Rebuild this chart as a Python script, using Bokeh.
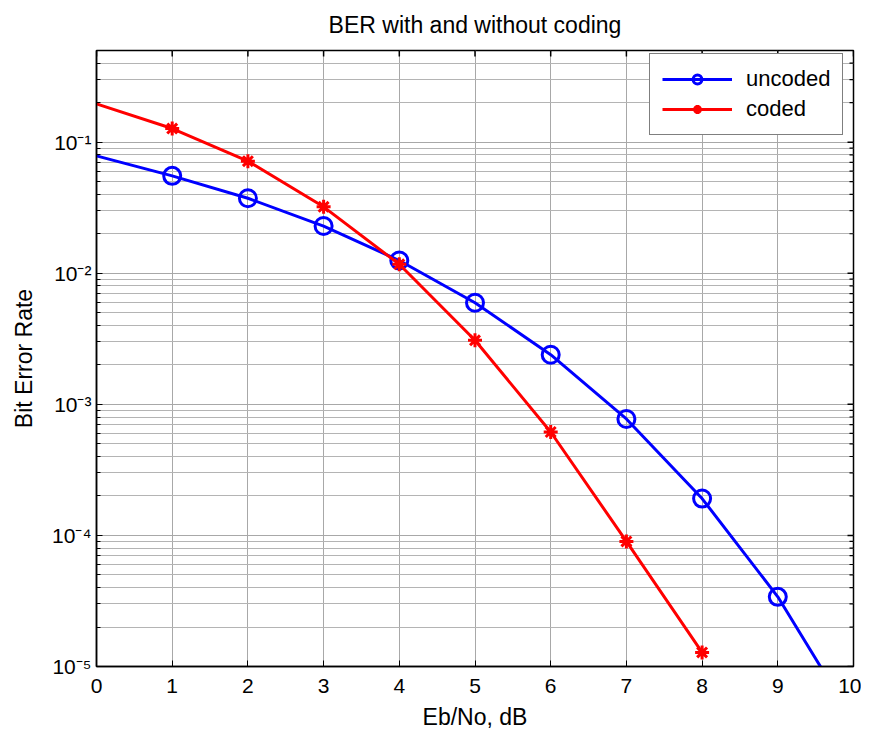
import math
from bokeh.plotting import figure
from bokeh.models import FixedTicker, Range1d, Legend, LegendItem
from bokeh.embed import file_html
from bokeh.resources import INLINE

# ---- data ----
ebno_uncoded = [0, 1, 2, 3, 4, 5, 6, 7, 8, 9, 10]
ber_uncoded = [0.0786, 0.0553, 0.0373, 0.0229, 0.0125, 0.00595, 0.00239,
               0.000773, 0.000191, 3.4e-5, 3.87e-6]
ebno_coded = [0, 1, 2, 3, 4, 5, 6, 7, 8]
ber_coded = [0.196, 0.127, 0.0716, 0.0321, 0.0117, 0.00308, 0.000615,
             9.0e-5, 1.28e-5]

x_lim = [0, 10]
y_lim = [1e-5, 0.5]
x_ticks = [0, 1, 2, 3, 4, 5, 6, 7, 8, 9, 10]
y_ticks = [1e-5, 1e-4, 1e-3, 1e-2, 1e-1]
y_tick_labels = ["10\u207b\u2075", "10\u207b\u2074", "10\u207b\u00b3",
                 "10\u207b\u00b2", "10\u207b\u00b9"]

title_text = "BER with and without coding"
x_label = "Eb/No, dB"
y_label = "Bit Error Rate"

FONT = "Liberation Sans"

y_minor = []
for e in range(-5, 0):
    for k in range(2, 10):
        v = k * 10.0 ** e
        if v <= y_lim[1]:
            y_minor.append(v)

p = figure(width=861, height=733, x_axis_type="linear", y_axis_type="log",
           x_range=Range1d(*x_lim), y_range=Range1d(*y_lim),
           output_backend="svg", toolbar_location=None,
           min_border_left=96, min_border_right=8, min_border_top=49,
           min_border_bottom=67)

p.title.text = title_text
p.title.align = "center"
p.title.vertical_align = "top"
p.title.standoff = 22
p.title.text_font = FONT
p.title.text_font_size = "23px"
p.title.text_font_style = "normal"
p.title.text_color = "black"

p.background_fill_color = "white"
p.border_fill_color = "white"
p.outline_line_color = "black"
p.outline_line_width = 1.5

xt = FixedTicker(ticks=x_ticks)
yt = FixedTicker(ticks=y_ticks, minor_ticks=y_minor)

def style_axis(ax):
    ax.axis_line_color = "black"
    ax.axis_line_width = 1.5
    ax.major_tick_in = 6
    ax.major_tick_out = 0
    ax.minor_tick_in = 4
    ax.minor_tick_out = 0
    ax.major_tick_line_color = "black"
    ax.minor_tick_line_color = "black"
    ax.major_label_text_font = FONT
    ax.major_label_text_font_size = "21px"
    ax.major_label_text_color = "black"
    ax.axis_label_text_font = FONT
    ax.axis_label_text_font_size = "23px"
    ax.axis_label_text_font_style = "normal"
    ax.axis_label_text_color = "black"

xa = p.xaxis[0]
xa.ticker = xt
style_axis(xa)
xa.axis_label = x_label
xa.major_label_standoff = 12
xa.axis_label_standoff = 8

ya = p.yaxis[0]
ya.ticker = yt
style_axis(ya)
ya.axis_label = y_label
ya.major_label_overrides = {v: s for v, s in zip(y_ticks, y_tick_labels)}
ya.major_label_standoff = 5
ya.axis_label_standoff = 12

p.xgrid.ticker = xt
p.ygrid.ticker = yt
for g in (p.xgrid[0], p.ygrid[0]):
    g.grid_line_color = "#a8a8a8"
    g.grid_line_width = 1
p.ygrid[0].minor_grid_line_color = "#b4b4b4"
p.ygrid[0].minor_grid_line_width = 1

# inward ticks on the right and top edges (half of each dash is clipped)
p.scatter([x_lim[1]] * len(y_ticks), y_ticks, marker="dash", size=12,
          line_color="black", line_width=1.5)
p.scatter([x_lim[1]] * len(y_minor), y_minor, marker="dash", size=8,
          line_color="black", line_width=1.2)
p.scatter(x_ticks, [y_lim[1]] * len(x_ticks), marker="dash", size=12,
          angle=math.pi / 2, line_color="black", line_width=1.5)

# uncoded
l1 = p.line(ebno_uncoded, ber_uncoded, line_color="blue", line_width=3)
m1 = p.scatter(ebno_uncoded[1:], ber_uncoded[1:], marker="circle", size=17,
               fill_color=None, line_color="blue", line_width=3)
# coded
l2 = p.line(ebno_coded, ber_coded, line_color="red", line_width=3)
m2 = p.scatter(ebno_coded[1:], ber_coded[1:], marker="asterisk", size=14,
               line_color="red", line_width=3)

legend = Legend(items=[LegendItem(label="uncoded", renderers=[l1, m1]),
                       LegendItem(label="coded", renderers=[l2, m2])],
                location=(553, 531))
legend.border_line_color = "black"
legend.border_line_width = 1.5
legend.background_fill_color = "white"
legend.background_fill_alpha = 1
legend.label_text_font = FONT
legend.label_text_font_size = "22px"
legend.label_text_color = "black"
legend.glyph_width = 70
legend.glyph_height = 22
legend.label_standoff = 14
legend.padding = 12
legend.spacing = 4
legend.margin = 0
p.add_layout(legend, "center")

open("out.html", "w").write(file_html(p, INLINE))
